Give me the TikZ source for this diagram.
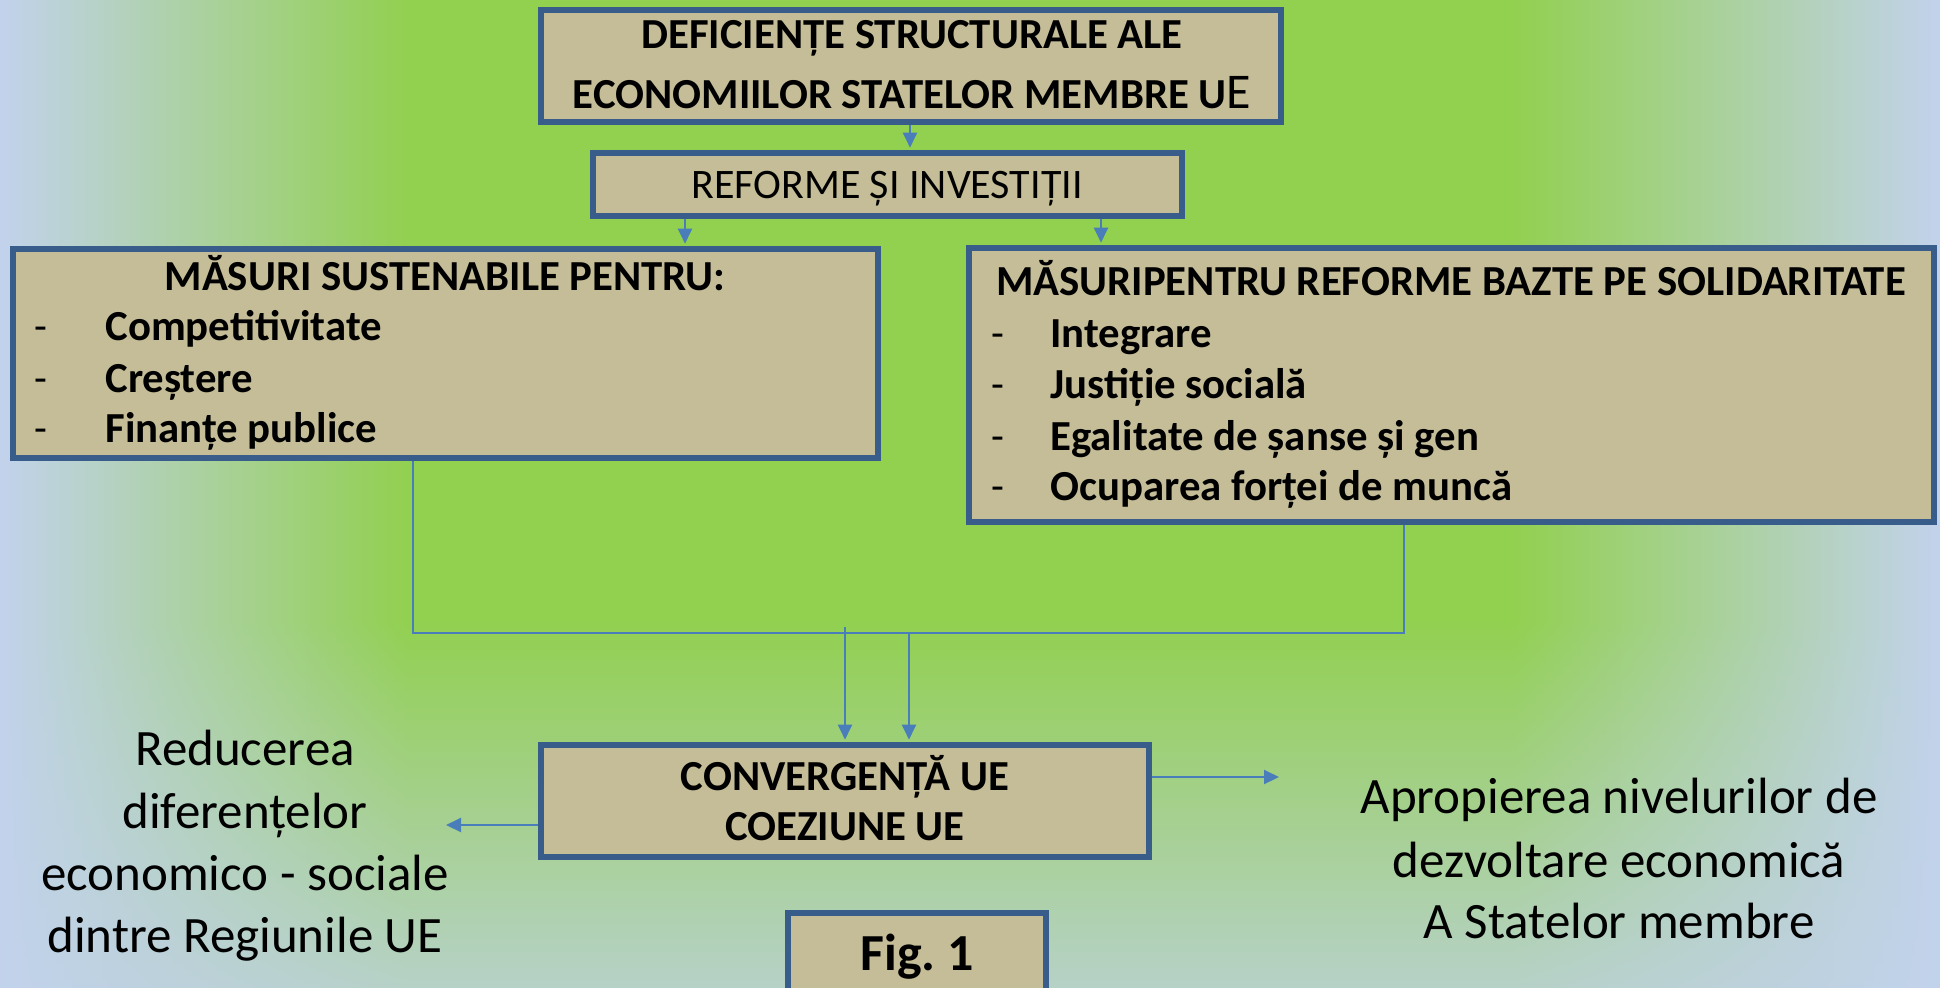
\documentclass[tikz,border=0pt]{standalone}
\usepackage{fontspec}
\setmainfont{Carlito}
\usetikzlibrary{arrows.meta,fadings}
\definecolor{bgblue}{RGB}{194,210,236}
\definecolor{bggreen}{RGB}{146,208,80}
\definecolor{boxfill}{RGB}{196,189,151}
\definecolor{boxline}{RGB}{56,93,138}
\definecolor{arrowblue}{RGB}{74,126,187}
\pgfdeclarehorizontalshading{bgh}{100bp}{color(0bp)=(bgblue); color(25bp)=(bgblue); color(35.5bp)=(bggreen); color(64bp)=(bggreen); color(75bp)=(bgblue); color(100bp)=(bgblue)}
\begin{document}
\begin{tikzpicture}[x=0.5pt,y=-0.5pt,
  box/.style={draw=boxline, line width=2.7pt, fill=boxfill, inner sep=0pt},
  bt/.style={font=\fontsize{21.4}{25}\selectfont\bfseries, inner sep=0pt, anchor=base},
  rt/.style={font=\fontsize{21}{25}\selectfont, inner sep=0pt, anchor=base},
  big/.style={font=\fontsize{25.5}{30}\selectfont, inner sep=0pt, anchor=base},
  dashmark/.style={font=\fontsize{21}{25}\selectfont, inner sep=0pt, anchor=base west},
  item/.style={font=\fontsize{21.4}{25}\selectfont\bfseries, inner sep=0pt, anchor=base west},
  ln/.style={draw=arrowblue, line width=1pt},
  arr/.style={ln, -{Triangle[length=7.5pt,width=7pt]}},
]
\useasboundingbox (0,0) rectangle (1940,987);
% background
\shade[shading=bgh] (0,0) rectangle (1940,987);
\fill[bgblue, path fading=north] (0,620) rectangle (1940,1100);

% boxes
\node[box, minimum width=370pt, minimum height=56pt] (top) at (911,66) {};
\node[box, minimum width=294.5pt, minimum height=31.5pt] (ref) at (887.5,184.5) {};
\node[box, minimum width=432.5pt, minimum height=104.5pt] (left) at (445.5,353.5) {};
\node[box, minimum width=482.5pt, minimum height=137pt] (right) at (1451.5,385) {};
\node[box, minimum width=304pt, minimum height=56pt] (conv) at (845,801) {};
\node[box, minimum width=129pt, minimum height=43.5pt] (fig) at (917,956.5) {};

% helper coordinates
\coordinate (xa) at (910,0);
\coordinate (xb) at (685,0);
\coordinate (xc) at (1101,0);
\coordinate (j1) at (413,633);
\coordinate (j2) at (1404,633);
\coordinate (d1) at (845,627);
\coordinate (d2) at (909,633);
\coordinate (la) at (446,825);
\coordinate (ra) at (1279,777);

% connectors
\draw[arr, shorten >=1.3pt] (top.south -| xa) -- (ref.north -| xa);
\draw[arr, shorten >=1.3pt] (ref.south -| xb) -- (left.north -| xb);
\draw[arr, shorten >=1.3pt] (ref.south -| xc) -- (right.north -| xc);
\draw[ln] (left.south -| j1) -- (j1) -- (j2) -- (right.south -| j2);
\draw[arr, shorten >=1.3pt] (d1) -- (conv.north -| d1);
\draw[arr, shorten >=1.3pt] (d2) -- (conv.north -| d2);
\draw[arr] (conv.west |- la) -- (la);
\draw[arr] (conv.east |- ra) -- (ra);

% texts
\node[bt] (t1) at (912,48) {DEFICIENȚE STRUCTURALE ALE};
\node[bt] (t2) at (912,108) {ECONOMIILOR STATELOR MEMBRE U{\mdseries\fontsize{25}{25}\selectfont E}};
\node[rt] (t3) at (887,198) {REFORME ȘI INVESTIȚII};

\node[bt] (l0) at (445,290) {MĂSURI SUSTENABILE PENTRU:};
\node[dashmark] (ld1) at (34,340) {-};
\node[dashmark] (ld2) at (34,392) {-};
\node[dashmark] (ld3) at (34,442) {-};
\node[item] (li1) at (105,340) {Competitivitate};
\node[item] (li2) at (105,392) {Creștere};
\node[item] (li3) at (105,442) {Finanțe publice};

\node[bt] (r0) at (1451,295) {MĂSURIPENTRU REFORME BAZTE PE SOLIDARITATE};
\node[dashmark] (rd1) at (991,347) {-};
\node[dashmark] (rd2) at (991,398) {-};
\node[dashmark] (rd3) at (991,450) {-};
\node[dashmark] (rd4) at (991,500) {-};
\node[item] (ri1) at (1050,347) {Integrare};
\node[item] (ri2) at (1050,398) {Justiție socială};
\node[item] (ri3) at (1050,450) {Egalitate de șanse și gen};
\node[item] (ri4) at (1050,500) {Ocuparea forței de muncă};

\node[bt] (c1) at (845,790) {CONVERGENȚĂ UE};
\node[bt] (c2) at (845,840) {COEZIUNE UE};
\node[bt, font=\fontsize{26}{30}\selectfont\bfseries] (f1) at (917,970) {Fig.\ 1};

\node[big] (a1) at (245,765) {Reducerea};
\node[big] (a2) at (245,828) {diferențelor};
\node[big] (a3) at (245,890) {economico - sociale};
\node[big] (a4) at (245,952) {dintre Regiunile UE};

\node[big] (b1) at (1619,813) {Apropierea nivelurilor de};
\node[big] (b2) at (1619,877) {dezvoltare economică};
\node[big] (b3) at (1619,938) {A Statelor membre};
\end{tikzpicture}
\end{document}
